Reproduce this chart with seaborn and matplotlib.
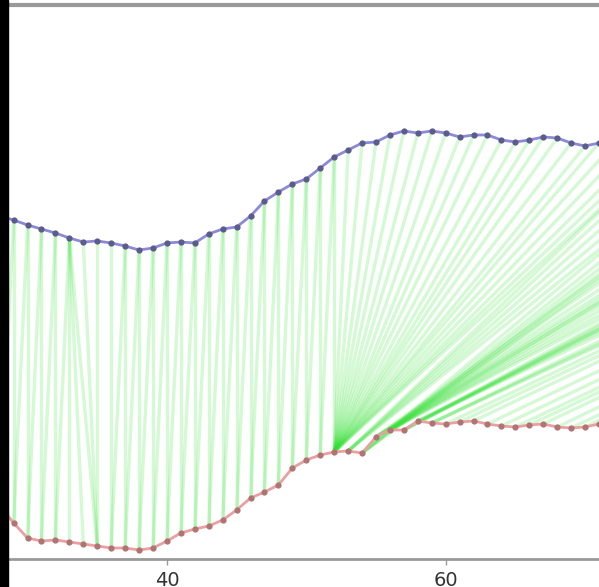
import matplotlib
matplotlib.use('Agg')
import matplotlib.pyplot as plt
from matplotlib.patches import Rectangle
from matplotlib.ticker import MultipleLocator
import numpy as np
import seaborn as sns

# upper series (blue), index starts at 28
top_start = 28
top_vals = [3.43, 3.39, 3.34, 3.30, 3.26, 3.21, 3.17, 3.18, 3.16, 3.13,
            3.09, 3.11, 3.16, 3.17, 3.16, 3.25, 3.30, 3.32, 3.43, 3.58,
            3.67, 3.75, 3.80, 3.91, 4.02, 4.09, 4.16, 4.17, 4.24, 4.28,
            4.26, 4.28, 4.26, 4.22, 4.24, 4.24, 4.19, 4.17, 4.19, 4.22,
            4.21, 4.16, 4.13, 4.16, 4.14,
            4.12, 4.10, 4.11, 4.13, 4.15, 4.14, 4.12, 4.10, 4.08, 4.09,
            4.11, 4.12, 4.10, 4.07, 4.05, 4.06, 4.08, 4.09, 4.07, 4.04,
            4.02, 4.03, 4.05, 4.06, 4.04, 4.01, 3.99, 4.00, 4.02, 4.03,
            4.01, 3.98, 3.96, 3.97, 3.99, 4.00, 3.98, 3.95]

# lower series (red), index starts at 28
bot_start = 28
bot_vals = [0.54, 0.36, 0.21, 0.18, 0.19, 0.17, 0.15, 0.13, 0.11, 0.11,
            0.09, 0.11, 0.18, 0.26, 0.30, 0.33, 0.39, 0.49, 0.61, 0.67,
            0.74, 0.91, 0.99, 1.04, 1.07, 1.08, 1.06, 1.22, 1.29, 1.29,
            1.38, 1.36, 1.35, 1.37, 1.38, 1.35, 1.33, 1.32, 1.34, 1.35,
            1.32, 1.31, 1.32, 1.35, 1.34]

# warping path: (upper index, lower index)
path = [(28, 28), (29, 28), (29, 29), (30, 29), (30, 30), (31, 30), (31, 31),
        (32, 31), (32, 32), (33, 32), (33, 33), (33, 34), (33, 35), (34, 35),
        (35, 35), (36, 36), (37, 36), (37, 37), (38, 37), (38, 38), (39, 38),
        (39, 39), (40, 39), (40, 40), (41, 40), (41, 41), (42, 41), (42, 42),
        (43, 42), (43, 43), (44, 43), (44, 44), (45, 44), (45, 45), (46, 45),
        (46, 46), (47, 46), (47, 47), (48, 47), (48, 48), (49, 48), (49, 49),
        (50, 49), (50, 50), (51, 50), (51, 51), (52, 51), (52, 52),
        (53, 52), (54, 52), (55, 52), (56, 52), (57, 52), (58, 52), (59, 52),
        (60, 52), (61, 52), (62, 52), (63, 52), (64, 52), (65, 52), (66, 52),
        (67, 52), (68, 52), (69, 52), (70, 52), (71, 52), (72, 52), (73, 52),
        (74, 52), (75, 52), (76, 52),
        (76, 53), (77, 53), (78, 53), (79, 53), (80, 53),
        (80, 54), (81, 54), (82, 54), (83, 54), (84, 54),
        (84, 55), (85, 55), (86, 55), (87, 55), (88, 55), (89, 55),
        (89, 56), (90, 56), (91, 56), (92, 56), (93, 56),
        (93, 57), (94, 57), (95, 57), (96, 57),
        (96, 58), (97, 58), (98, 58),
        (98, 59), (99, 59), (100, 59),
        (100, 60), (101, 61), (102, 62), (103, 63), (104, 64), (105, 65),
        (106, 66), (107, 67), (108, 68), (109, 69), (110, 70), (110, 71),
        (110, 72)]

top_x = np.arange(top_start, top_start + len(top_vals))
bot_x = np.arange(bot_start, bot_start + len(bot_vals))

fig = plt.figure(figsize=(5.99, 5.87), dpi=100)
ax = fig.add_axes([8 / 599, 28 / 587, 1 - 8 / 599, (559 - 5) / 587])

for ti, bi in path:
    ax.plot([ti, bi], [top_vals[ti - top_start], bot_vals[bi - bot_start]],
            color='#2ee02e', alpha=0.2, lw=2.4, zorder=1,
            solid_capstyle='butt')

sns.lineplot(x=top_x, y=top_vals, ax=ax, color='#8a8ad8', lw=2.0,
             marker='o', markersize=4.5, markerfacecolor='#5c5c8a',
             markeredgecolor='none', zorder=3)
sns.lineplot(x=bot_x, y=bot_vals, ax=ax, color='#eaa0a0', lw=2.0,
             marker='o', markersize=4.5, markerfacecolor='#b07474',
             markeredgecolor='none', zorder=3)

ax.set_xlim(28.6, 71.0)
ax.set_ylim(0, 5.54)
ax.xaxis.set_major_locator(MultipleLocator(20))
ax.set_yticks([])
ax.set_xlabel('')
ax.set_ylabel('')
ax.tick_params(axis='x', labelsize=14, colors='#333333', length=4, width=1,
               pad=5)
ax.tick_params(axis='x', color='#999999')
for s in ['left', 'right']:
    ax.spines[s].set_visible(False)
ax.spines['bottom'].set_color('#999999')
ax.spines['bottom'].set_linewidth(2)
ax.spines['top'].set_color('#999999')
ax.spines['top'].set_linewidth(3)

fig.patches.append(Rectangle((0, 0), 8 / 599, 1, transform=fig.transFigure,
                             color='black', zorder=10))

fig.savefig('out.png', dpi=100)
